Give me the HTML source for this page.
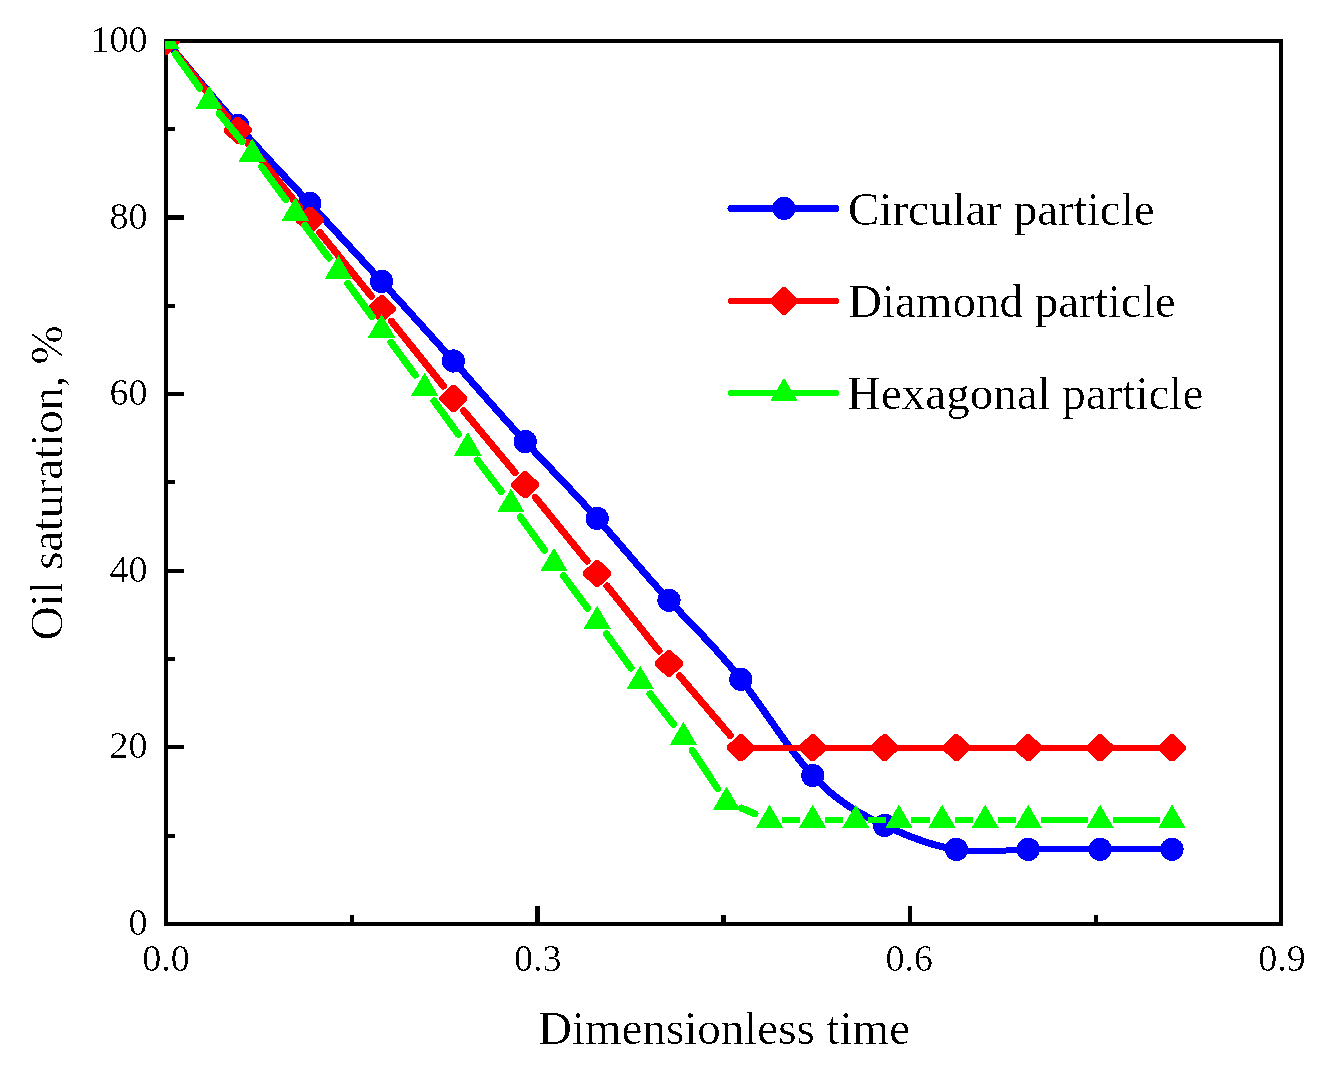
<!DOCTYPE html><html><head><meta charset="utf-8"><style>html,body{margin:0;padding:0;background:#fff;overflow:hidden}svg{display:block}</style></head><body><svg width="1323" height="1069" viewBox="0 0 1323 1069">
<defs><filter id="bin" x="0" y="0" width="1" height="1" filterUnits="objectBoundingBox" color-interpolation-filters="sRGB"><feComponentTransfer><feFuncA type="discrete" tableValues="0 0 1"/></feComponentTransfer></filter><clipPath id="pa"><rect x="165" y="41" width="1116" height="883"/></clipPath></defs>
<rect width="1323" height="1069" fill="#fff"/>
<g fill="#000" shape-rendering="crispEdges">
<rect x="164" y="39" width="1119" height="4"/><rect x="164" y="922" width="1119" height="4"/>
<rect x="164" y="39" width="4" height="887"/><rect x="1279" y="39" width="4" height="887"/>
<rect x="168" y="215" width="16" height="5"/>
<rect x="168" y="392" width="16" height="4"/>
<rect x="168" y="569" width="16" height="4"/>
<rect x="168" y="745" width="16" height="4"/>
<rect x="168" y="127" width="7" height="4"/>
<rect x="168" y="304" width="7" height="4"/>
<rect x="168" y="480" width="7" height="4"/>
<rect x="168" y="657" width="7" height="4"/>
<rect x="168" y="834" width="7" height="4"/>
<rect x="535" y="906" width="5" height="16"/>
<rect x="908" y="906" width="4" height="16"/>
<rect x="350" y="915" width="4" height="7"/>
<rect x="721" y="915" width="5" height="7"/>
<rect x="1094" y="915" width="4" height="7"/>
</g>
<g clip-path="url(#pa)" shape-rendering="crispEdges">
<path d="M166.00,41.00 L169.59,45.31 L173.19,49.62 L176.78,53.93 L180.37,58.24 L183.96,62.54 L187.56,66.83 L191.15,71.11 L194.74,75.39 L198.34,79.66 L201.93,83.91 L205.52,88.15 L209.11,92.38 L212.71,96.58 L216.30,100.78 L219.89,104.95 L223.49,109.11 L227.08,113.24 L230.67,117.35 L234.26,121.44 L237.86,125.50 L241.45,129.54 L245.04,133.55 L248.64,137.54 L252.23,141.50 L255.82,145.45 L259.41,149.38 L263.01,153.29 L266.60,157.19 L270.19,161.07 L273.79,164.95 L277.38,168.81 L280.97,172.66 L284.56,176.51 L288.16,180.36 L291.75,184.20 L295.34,188.03 L298.94,191.87 L302.53,195.71 L306.12,199.55 L309.71,203.40 L313.31,207.25 L316.90,211.11 L320.49,214.98 L324.09,218.85 L327.68,222.73 L331.27,226.61 L334.86,230.50 L338.46,234.39 L342.05,238.29 L345.64,242.19 L349.24,246.10 L352.83,250.01 L356.42,253.92 L360.01,257.84 L363.61,261.76 L367.20,265.68 L370.79,269.61 L374.39,273.54 L377.98,277.47 L381.57,281.40 L385.16,285.34 L388.76,289.27 L392.35,293.21 L395.94,297.16 L399.54,301.10 L403.13,305.05 L406.72,309.01 L410.31,312.97 L413.91,316.94 L417.50,320.91 L421.09,324.88 L424.69,328.86 L428.28,332.85 L431.87,336.85 L435.46,340.85 L439.06,344.87 L442.65,348.89 L446.24,352.91 L449.84,356.95 L453.43,361.00 L457.02,365.06 L460.61,369.12 L464.21,373.19 L467.80,377.27 L471.39,381.35 L474.99,385.43 L478.58,389.50 L482.17,393.58 L485.76,397.65 L489.36,401.71 L492.95,405.77 L496.54,409.81 L500.14,413.85 L503.73,417.87 L507.32,421.87 L510.91,425.86 L514.51,429.83 L518.10,433.78 L521.69,437.70 L525.28,441.60 L528.88,445.47 L532.47,449.33 L536.06,453.16 L539.66,456.97 L543.25,460.77 L546.84,464.56 L550.43,468.35 L554.03,472.13 L557.62,475.91 L561.21,479.69 L564.81,483.48 L568.40,487.28 L571.99,491.09 L575.58,494.92 L579.18,498.77 L582.77,502.64 L586.36,506.53 L589.96,510.45 L593.55,514.41 L597.14,518.40 L600.73,522.43 L604.33,526.49 L607.92,530.58 L611.51,534.70 L615.11,538.84 L618.70,542.99 L622.29,547.16 L625.88,551.33 L629.48,555.50 L633.07,559.68 L636.66,563.84 L640.26,568.00 L643.85,572.14 L647.44,576.26 L651.03,580.35 L654.63,584.42 L658.22,588.45 L661.81,592.44 L665.41,596.40 L669.00,600.30 L672.59,604.15 L676.18,607.97 L679.78,611.74 L683.37,615.50 L686.96,619.23 L690.56,622.96 L694.15,626.69 L697.74,630.43 L701.33,634.20 L704.93,637.99 L708.52,641.81 L712.11,645.69 L715.71,649.61 L719.30,653.61 L722.89,657.67 L726.48,661.82 L730.08,666.05 L733.67,670.39 L737.26,674.84 L740.86,679.40 L744.45,684.09 L748.04,688.88 L751.63,693.77 L755.23,698.74 L758.82,703.76 L762.41,708.84 L766.01,713.94 L769.60,719.05 L773.19,724.16 L776.78,729.26 L780.38,734.31 L783.97,739.31 L787.56,744.25 L791.16,749.10 L794.75,753.84 L798.34,758.48 L801.93,762.97 L805.53,767.32 L809.12,771.50 L812.71,775.50 L816.31,779.30 L819.90,782.92 L823.49,786.35 L827.08,789.61 L830.68,792.71 L834.27,795.65 L837.86,798.45 L841.46,801.11 L845.05,803.63 L848.64,806.04 L852.23,808.34 L855.83,810.53 L859.42,812.63 L863.01,814.64 L866.61,816.58 L870.20,818.44 L873.79,820.25 L877.38,822.01 L880.98,823.72 L884.57,825.40 L888.16,827.05 L891.76,828.68 L895.35,830.27 L898.94,831.83 L902.53,833.35 L906.13,834.83 L909.72,836.26 L913.31,837.65 L916.91,838.98 L920.50,840.27 L924.09,841.49 L927.68,842.66 L931.28,843.76 L934.87,844.79 L938.46,845.75 L942.06,846.64 L945.65,847.45 L949.24,848.19 L952.83,848.84 L956.43,849.40" fill="none" stroke="#0000ff" stroke-width="7.1" stroke-linejoin="round" stroke-linecap="round"/>
<path d="M956.43,849.40 L960.02,849.88 L963.61,850.27 L967.21,850.58 L970.80,850.82 L974.39,850.99 L977.98,851.11 L981.58,851.16 L985.17,851.17 L988.76,851.13 L992.36,851.05 L995.95,850.94 L999.54,850.81 L1003.13,850.65 L1006.73,850.47 L1010.32,850.29 L1013.91,850.10 L1017.51,849.91 L1021.10,849.72 L1024.69,849.55 L1028.28,849.40 L1031.88,849.27 L1035.47,849.16 L1039.06,849.07 L1042.66,849.00 L1046.25,848.95 L1049.84,848.91 L1053.43,848.89 L1057.03,848.88 L1060.62,848.89 L1064.21,848.90 L1067.81,848.93 L1071.40,848.96 L1074.99,848.99 L1078.58,849.03 L1082.18,849.08 L1085.77,849.13 L1089.36,849.17 L1092.96,849.22 L1096.55,849.26 L1100.14,849.30 L1103.73,849.33 L1107.33,849.36 L1110.92,849.39 L1114.51,849.41 L1118.11,849.42 L1121.70,849.43 L1125.29,849.44 L1128.88,849.44 L1132.48,849.44 L1136.07,849.44 L1139.66,849.43 L1143.26,849.42 L1146.85,849.41 L1150.44,849.40 L1154.03,849.39 L1157.63,849.37 L1161.22,849.35 L1164.81,849.34 L1168.41,849.32 L1172.00,849.30" fill="none" stroke="#0000ff" stroke-width="6.0" stroke-linejoin="round" stroke-linecap="round"/>
<g fill="#0000ff"><circle cx="166.00" cy="41.00" r="11.6"/><circle cx="237.86" cy="125.50" r="11.6"/><circle cx="309.71" cy="203.40" r="11.6"/><circle cx="381.57" cy="281.40" r="11.6"/><circle cx="453.43" cy="361.00" r="11.6"/><circle cx="525.28" cy="441.60" r="11.6"/><circle cx="597.14" cy="518.40" r="11.6"/><circle cx="669.00" cy="600.30" r="11.6"/><circle cx="740.86" cy="679.40" r="11.6"/><circle cx="812.71" cy="775.50" r="11.6"/><circle cx="884.57" cy="825.40" r="11.6"/><circle cx="956.43" cy="849.40" r="11.6"/><circle cx="1028.28" cy="849.40" r="11.6"/><circle cx="1100.14" cy="849.30" r="11.6"/><circle cx="1172.00" cy="849.30" r="11.6"/></g>
<path d="M176.03,53.47 L227.83,117.83 M247.86,142.79 L299.71,207.51 M319.78,232.44 L371.51,296.36 M391.57,321.29 L443.42,386.01 M463.66,410.80 L515.05,472.60 M535.36,497.33 L587.06,561.07 M607.13,586.00 L659.02,651.00 M679.38,675.68 L730.48,735.62" fill="none" stroke="#ff0000" stroke-width="7.1" stroke-linecap="round"/>
<path d="M753.36,747.80 L800.21,747.80 M825.21,747.80 L872.07,747.80 M897.07,747.80 L943.93,747.80 M968.93,747.80 L1015.78,747.80 M1040.78,747.80 L1087.64,747.80 M1112.64,747.80 L1159.50,747.80" fill="none" stroke="#ff0000" stroke-width="6.0" stroke-linecap="butt"/>
<g fill="#ff0000"><polygon points="164.20,27.50 167.80,27.50 180.00,39.20 180.00,42.80 167.80,54.50 164.20,54.50 152.00,42.80 152.00,39.20"/><polygon points="236.06,116.80 239.66,116.80 251.86,128.50 251.86,132.10 239.66,143.80 236.06,143.80 223.86,132.10 223.86,128.50"/><polygon points="307.91,206.50 311.51,206.50 323.71,218.20 323.71,221.80 311.51,233.50 307.91,233.50 295.71,221.80 295.71,218.20"/><polygon points="379.77,295.30 383.37,295.30 395.57,307.00 395.57,310.60 383.37,322.30 379.77,322.30 367.57,310.60 367.57,307.00"/><polygon points="451.63,385.00 455.23,385.00 467.43,396.70 467.43,400.30 455.23,412.00 451.63,412.00 439.43,400.30 439.43,396.70"/><polygon points="523.49,471.40 527.08,471.40 539.28,483.10 539.28,486.70 527.08,498.40 523.49,498.40 511.28,486.70 511.28,483.10"/><polygon points="595.34,560.00 598.94,560.00 611.14,571.70 611.14,575.30 598.94,587.00 595.34,587.00 583.14,575.30 583.14,571.70"/><polygon points="667.20,650.00 670.80,650.00 683.00,661.70 683.00,665.30 670.80,677.00 667.20,677.00 655.00,665.30 655.00,661.70"/><polygon points="739.06,734.30 742.66,734.30 754.86,746.00 754.86,749.60 742.66,761.30 739.06,761.30 726.86,749.60 726.86,746.00"/><polygon points="810.91,734.30 814.51,734.30 826.71,746.00 826.71,749.60 814.51,761.30 810.91,761.30 798.71,749.60 798.71,746.00"/><polygon points="882.77,734.30 886.37,734.30 898.57,746.00 898.57,749.60 886.37,761.30 882.77,761.30 870.57,749.60 870.57,746.00"/><polygon points="954.63,734.30 958.23,734.30 970.43,746.00 970.43,749.60 958.23,761.30 954.63,761.30 942.43,749.60 942.43,746.00"/><polygon points="1026.48,734.30 1030.08,734.30 1042.28,746.00 1042.28,749.60 1030.08,761.30 1026.48,761.30 1014.28,749.60 1014.28,746.00"/><polygon points="1098.34,734.30 1101.94,734.30 1114.14,746.00 1114.14,749.60 1101.94,761.30 1098.34,761.30 1086.14,749.60 1086.14,746.00"/><polygon points="1170.20,734.30 1173.80,734.30 1186.00,746.00 1186.00,749.60 1173.80,761.30 1170.20,761.30 1158.00,749.60 1158.00,746.00"/></g>
<path d="M175.33,54.00 L199.79,88.10 M219.25,113.48 L242.10,141.42 M261.68,166.71 L285.89,199.79 M304.88,225.55 L328.92,257.95 M347.93,283.70 L372.10,316.60 M391.06,342.38 L415.19,375.12 M434.08,400.95 L458.40,434.45 M477.48,460.14 L501.23,491.36 M520.35,517.02 L544.59,550.18 M563.58,575.93 L587.59,608.17 M606.47,634.00 L630.93,668.10 M650.02,693.78 L673.61,724.42 M692.23,750.42 L717.62,788.58 M741.24,808.09 L754.85,813.81" fill="none" stroke="#00ff00" stroke-width="7.1" stroke-linecap="round"/>
<path d="M782.10,820.00 L800.21,820.00 M825.21,820.00 L843.33,820.00 M868.33,820.00 L886.44,820.00 M911.44,820.00 L929.56,820.00 M954.56,820.00 L972.67,820.00 M997.67,820.00 L1015.78,820.00 M1040.78,820.00 L1087.64,820.00 M1112.64,820.00 L1159.50,820.00" fill="none" stroke="#00ff00" stroke-width="6.0" stroke-linecap="butt"/>
<g fill="#00ff00"><polygon points="166.00,25.60 179.80,49.20 152.20,49.20"/><polygon points="209.11,85.70 222.91,109.30 195.31,109.30"/><polygon points="252.23,138.40 266.03,162.00 238.43,162.00"/><polygon points="295.34,197.30 309.14,220.90 281.54,220.90"/><polygon points="338.46,255.40 352.26,279.00 324.66,279.00"/><polygon points="381.57,314.10 395.37,337.70 367.77,337.70"/><polygon points="424.69,372.60 438.49,396.20 410.89,396.20"/><polygon points="467.80,432.00 481.60,455.60 454.00,455.60"/><polygon points="510.91,488.70 524.71,512.30 497.11,512.30"/><polygon points="554.03,547.70 567.83,571.30 540.23,571.30"/><polygon points="597.14,605.60 610.94,629.20 583.34,629.20"/><polygon points="640.26,665.70 654.06,689.30 626.46,689.30"/><polygon points="683.37,721.70 697.17,745.30 669.57,745.30"/><polygon points="726.48,786.50 740.28,810.10 712.68,810.10"/><polygon points="769.60,804.60 783.40,828.20 755.80,828.20"/><polygon points="812.71,804.60 826.51,828.20 798.91,828.20"/><polygon points="855.83,804.60 869.63,828.20 842.03,828.20"/><polygon points="898.94,804.60 912.74,828.20 885.14,828.20"/><polygon points="942.06,804.60 955.86,828.20 928.26,828.20"/><polygon points="985.17,804.60 998.97,828.20 971.37,828.20"/><polygon points="1028.28,804.60 1042.08,828.20 1014.48,828.20"/><polygon points="1100.14,804.60 1113.94,828.20 1086.34,828.20"/><polygon points="1172.00,804.60 1185.80,828.20 1158.20,828.20"/></g>
</g>
<g font-family="Liberation Serif" font-size="38" fill="#000" filter="url(#bin)">
<text x="147.6" y="934.7" text-anchor="end">0</text>
<text x="147.6" y="758.1" text-anchor="end">20</text>
<text x="147.6" y="581.5" text-anchor="end">40</text>
<text x="147.6" y="404.9" text-anchor="end">60</text>
<text x="147.6" y="229.3" text-anchor="end">80</text>
<text x="147.6" y="51.7" text-anchor="end">100</text>
<text x="166.0" y="971" text-anchor="middle">0.0</text>
<text x="537.7" y="971" text-anchor="middle">0.3</text>
<text x="909.3" y="971" text-anchor="middle">0.6</text>
<text x="1282.0" y="971" text-anchor="middle">0.9</text>
</g>
<g font-family="Liberation Serif" font-size="47" fill="#000" filter="url(#bin)">
<text x="724" y="1043.5" text-anchor="middle">Dimensionless time</text>
<text transform="translate(62.5,483) rotate(-90)" text-anchor="middle" letter-spacing="-0.3">Oil saturation, %</text>
<text x="848" y="224.5">Circular particle</text>
<text x="848" y="316.8">Diamond particle</text>
<text x="847" y="408.8">Hexagonal particle</text>
</g>
<g shape-rendering="crispEdges">
<line x1="731" y1="208.5" x2="836" y2="208.5" stroke="#0000ff" stroke-width="7" stroke-linecap="round"/>
<line x1="731" y1="301" x2="836" y2="301" stroke="#ff0000" stroke-width="6" stroke-linecap="round"/>
<line x1="731" y1="393" x2="836" y2="393" stroke="#00ff00" stroke-width="6" stroke-linecap="round"/>
<g fill="#0000ff"><circle cx="784.00" cy="208.40" r="11.6"/></g>
<g fill="#ff0000"><polygon points="782.70,286.80 785.30,286.80 798.40,299.60 798.40,302.20 785.30,315.00 782.70,315.00 769.60,302.20 769.60,299.60"/></g>
<g fill="#00ff00"><polygon points="784.00,377.70 797.80,401.30 770.20,401.30"/></g>
</g>
</svg></body></html>
